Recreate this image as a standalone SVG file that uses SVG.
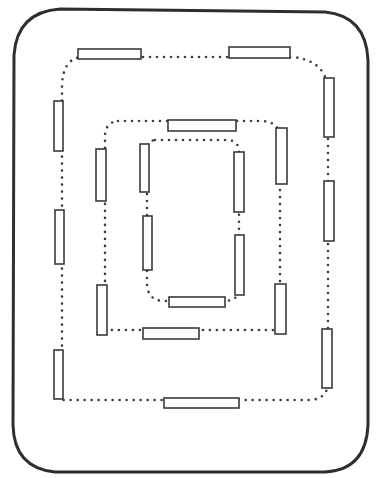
<svg xmlns="http://www.w3.org/2000/svg" width="376" height="478" viewBox="0 0 376 478">
<style>
.frame{fill:none;stroke:#2e2e2e;stroke-width:3;stroke-linejoin:round}
.dots{fill:none;stroke:#3c3c3c;stroke-width:2.6;stroke-dasharray:0 7;stroke-linecap:round}
.bar{fill:#fff;stroke:#3a3a3a;stroke-width:1.6}
</style>
<rect width="376" height="478" fill="#fff"/>
<path id="frame" class="frame" d="M 60 9 L 325 12 Q 366 16 368 60 L 368 425 Q 366 470 325 472 L 55 472 Q 14 468 13 425 L 14 55 Q 17 12 60 9 Z"/>
<g id="connectors">
  <path class="dots" d="M 80 57 H 292 Q 326 60 328 90 V 385 Q 326 399 310 400 H 62 V 85 Q 63 60 80 57 Z"/>
  <path class="dots" d="M 118 121 H 262 Q 278 122 280 135 V 330 H 105 V 135 Q 106 122 118 121 Z"/>
  <path class="dots" d="M 155 140 H 228 Q 239 141 239 152 V 290 Q 238 300 226 301 H 163 Q 148 300 147 285 V 150 Q 147 141 155 140 Z"/>
</g>
<g id="outer-ring">
  <g id="o1"><rect class="bar" x="78" y="49" width="63" height="10"/></g>
  <g id="o2"><rect class="bar" x="229" y="47" width="61" height="11"/></g>
  <g id="o3"><rect class="bar" x="324" y="78" width="10" height="59"/></g>
  <g id="o4"><rect class="bar" x="324" y="181" width="10" height="60"/></g>
  <g id="o5"><rect class="bar" x="322" y="329" width="10" height="59"/></g>
  <g id="o6"><rect class="bar" x="164" y="398" width="75" height="10"/></g>
  <g id="o7"><rect class="bar" x="54" y="350" width="9" height="49"/></g>
  <g id="o8"><rect class="bar" x="55" y="210" width="9" height="54"/></g>
  <g id="o9"><rect class="bar" x="54" y="101" width="9" height="50"/></g>
</g>
<g id="middle-ring">
  <g id="m1"><rect class="bar" x="168" y="120" width="68" height="11"/></g>
  <g id="m2"><rect class="bar" x="276" y="128" width="11" height="56"/></g>
  <g id="m3"><rect class="bar" x="275" y="284" width="11" height="50"/></g>
  <g id="m4"><rect class="bar" x="143" y="328" width="56" height="11"/></g>
  <g id="m5"><rect class="bar" x="97" y="285" width="10" height="50"/></g>
  <g id="m6"><rect class="bar" x="96" y="149" width="10" height="52"/></g>
</g>
<g id="inner-ring">
  <g id="i1"><rect class="bar" x="140" y="144" width="9" height="48"/></g>
  <g id="i2"><rect class="bar" x="143" y="216" width="9" height="54"/></g>
  <g id="i3"><rect class="bar" x="169" y="297" width="56" height="10"/></g>
  <g id="i4"><rect class="bar" x="235" y="235" width="9" height="60"/></g>
  <g id="i5"><rect class="bar" x="234" y="152" width="10" height="60"/></g>
</g>
</svg>
